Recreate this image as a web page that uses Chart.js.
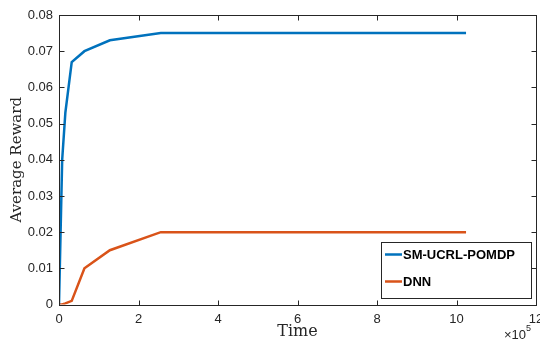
<!DOCTYPE html>
<html>
<head>
<meta charset="utf-8">
<script src="https://cdn.jsdelivr.net/npm/chart.js@4/dist/chart.umd.min.js"></script>
<style>
  html, body { margin: 0; padding: 0; background: #fff; }
  #wrap { width: 540px; height: 341px; }
</style>
</head>
<body>
<div id="wrap"><canvas id="chart"></canvas></div>
<script>
// data
const timeSteps = [0, 8000, 16000, 32000, 64000, 128000, 256000, 512000, 1024000];
const smUcrlPomdp = [0, 0.040, 0.053, 0.067, 0.070, 0.073, 0.075, 0.075, 0.075];
const dnn = [0, 0, 0.0003, 0.001, 0.010, 0.015, 0.020, 0.020, 0.020];
const seriesNames = ['SM-UCRL-POMDP', 'DNN'];
const seriesColors = ['#0072BD', '#D95319'];
const xTickValues = [0, 2e5, 4e5, 6e5, 8e5, 10e5, 12e5];
const yTickValues = [0, 0.01, 0.02, 0.03, 0.04, 0.05, 0.06, 0.07, 0.08];

const axisColor = '#262626';
const tickFont = { family: "'Liberation Sans', Arial, sans-serif", size: 13 };

// MATLAB style frame, inward ticks, titles, legend box
const matlabFrame = {
  id: 'matlabFrame',
  afterDraw(chart) {
    const ctx = chart.ctx;
    const { left, right, top, bottom } = chart.chartArea;
    const xs = chart.scales.x, ys = chart.scales.y;
    const L = Math.round(left) + 0.5, R = Math.round(right) + 0.5;
    const T = Math.round(top) + 0.5, B = Math.round(bottom) + 0.5;
    ctx.save();
    ctx.strokeStyle = axisColor;
    ctx.lineWidth = 1;
    ctx.strokeRect(L, T, R - L, B - T);
    ctx.beginPath();
    xTickValues.forEach(v => {
      const px = Math.round(xs.getPixelForValue(v)) + 0.5;
      ctx.moveTo(px, B); ctx.lineTo(px, B - 5);
      ctx.moveTo(px, T); ctx.lineTo(px, T + 5);
    });
    yTickValues.forEach(v => {
      const py = Math.round(ys.getPixelForValue(v)) + 0.5;
      ctx.moveTo(L, py); ctx.lineTo(L + 5, py);
      ctx.moveTo(R, py); ctx.lineTo(R - 5, py);
    });
    ctx.stroke();

    // axis titles
    ctx.fillStyle = axisColor;
    ctx.font = "16px 'DejaVu Serif', serif";
    ctx.textAlign = 'center';
    ctx.textBaseline = 'middle';
    ctx.fillText('Time', (left + right) / 2, 332);
    ctx.font = "15px 'DejaVu Serif', serif";
    ctx.save();
    ctx.translate(17, (top + bottom) / 2);
    ctx.rotate(-Math.PI / 2);
    ctx.fillText('Average Reward', 0, 0);
    ctx.restore();

    // exponent label
    ctx.font = "13px 'Liberation Sans', Arial, sans-serif";
    ctx.textAlign = 'left';
    ctx.fillText('\u00d710', 504, 335);
    ctx.font = "9px 'Liberation Sans', Arial, sans-serif";
    ctx.fillText('5', 526, 329);

    // legend
    const bx = 381.5, by = 242.5, bw = 150, bh = 56;
    ctx.fillStyle = '#fff';
    ctx.fillRect(bx, by, bw, bh);
    ctx.strokeRect(bx, by, bw, bh);
    ctx.font = "bold 13px 'Liberation Sans', Arial, sans-serif";
    ctx.textBaseline = 'middle';
    const rows = [254.5, 281.5];
    seriesNames.forEach((name, i) => {
      ctx.strokeStyle = seriesColors[i];
      ctx.lineWidth = 2.5;
      ctx.beginPath();
      ctx.moveTo(385, rows[i]); ctx.lineTo(402, rows[i]);
      ctx.stroke();
      ctx.fillStyle = '#000';
      ctx.fillText(name, 403, rows[i] + 0.5);
    });
    ctx.restore();
  }
};

new Chart(document.getElementById('chart'), {
  type: 'line',
  data: {
    datasets: [
      {
        label: seriesNames[0],
        data: timeSteps.map((t, i) => ({ x: t, y: smUcrlPomdp[i] })),
        borderColor: seriesColors[0],
        borderWidth: 2.5,
        pointRadius: 0,
        tension: 0,
        fill: false
      },
      {
        label: seriesNames[1],
        data: timeSteps.map((t, i) => ({ x: t, y: dnn[i] })),
        borderColor: seriesColors[1],
        borderWidth: 2.5,
        pointRadius: 0,
        tension: 0,
        fill: false
      }
    ]
  },
  options: {
    responsive: true,
    maintainAspectRatio: false,
    animation: false,
    layout: { padding: { top: 15, right: 4, left: 0, bottom: 0 } },
    plugins: {
      legend: { display: false },
      tooltip: { enabled: false }
    },
    scales: {
      x: {
        type: 'linear',
        min: 0,
        max: 12e5,
        afterFit: s => { s.height = 36.5; s.paddingRight = 0; s.paddingLeft = 0; },
        afterBuildTicks: s => { s.ticks = xTickValues.map(v => ({ value: v })); },
        ticks: {
          color: axisColor,
          font: tickFont,
          padding: 7,
          maxRotation: 0,
          callback: v => String(v / 1e5)
        },
        grid: { display: false, drawTicks: false },
        border: { display: false }
      },
      y: {
        min: 0,
        max: 0.08,
        afterFit: s => { s.width = 59; s.paddingTop = 0; s.paddingBottom = 0; },
        afterBuildTicks: s => { s.ticks = yTickValues.map(v => ({ value: v })); },
        ticks: {
          color: axisColor,
          font: tickFont,
          padding: 6,
          callback: v => (v === 0 ? '0' : v.toFixed(2))
        },
        grid: { display: false, drawTicks: false },
        border: { display: false }
      }
    }
  },
  plugins: [matlabFrame]
});
</script>
</body>
</html>
